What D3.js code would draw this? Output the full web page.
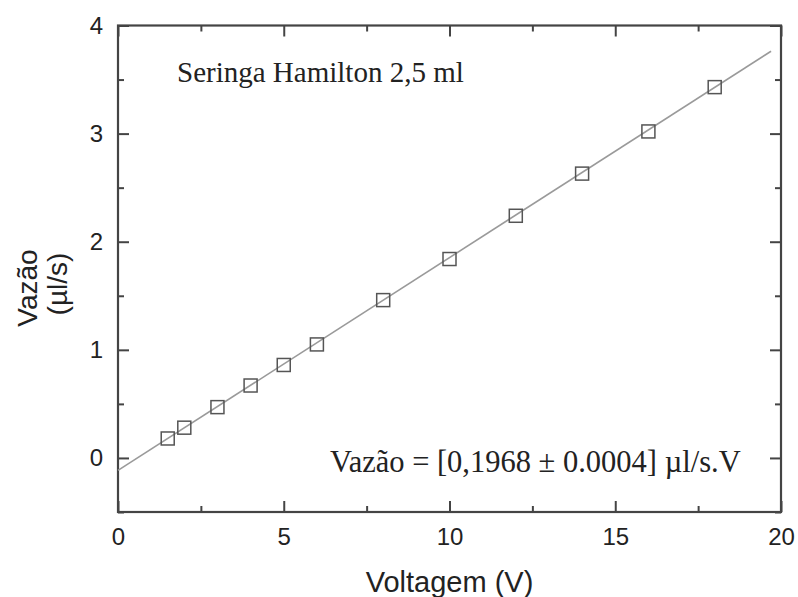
<!DOCTYPE html>
<html>
<head>
<meta charset="utf-8">
<script src="https://cdn.jsdelivr.net/npm/d3@7"></script>
<style>
  html, body { margin: 0; padding: 0; background: #fff; }
  svg { display: block; }
</style>
</head>
<body>
<svg id="chart" width="798" height="597"></svg>
<script>
// ---- data ----
const voltage = [1.5, 2, 3, 4, 5, 6, 8, 10, 12, 14, 16, 18];
const flow    = [0.18, 0.28, 0.47, 0.67, 0.86, 1.05, 1.46, 1.84, 2.24, 2.63, 3.02, 3.43];
const fitSlope = 0.1968;
const fitIntercept = -0.115;
const fitRange = [0, 19.7];
const xTicks = [0, 5, 10, 15, 20];
const xMinor = [2.5, 7.5, 12.5, 17.5];
const yTicks = [0, 1, 2, 3, 4];
const yMinor = [-0.5, 0.5, 1.5, 2.5, 3.5];
const titleText = "Seringa Hamilton 2,5 ml";
const eqText = "Vazão = [0,1968 ± 0.0004] µl/s.V";
const xLabel = "Voltagem (V)";
const yLabel1 = "Vazão";
const yLabel2 = "(µl/s)";

// ---- layout ----
const L = 118, R = 781, T = 25.5, B = 512;
const svg = d3.select("#chart");
const x = d3.scaleLinear().domain([0, 20]).range([L, R]);
const y = d3.scaleLinear().domain([-0.5, 4]).range([B, T]);

const axisColor = "#444";
const sans = "'Liberation Sans', Arial, sans-serif";
const serif = "'Liberation Serif', 'Times New Roman', serif";

function styleAxis(g) {
  g.select(".domain").remove();
  g.selectAll(".tick line").attr("stroke", axisColor).attr("stroke-width", 2);
  g.selectAll(".tick text").attr("fill", "#222").style("font-family", sans).style("font-size", "24px");
}

// major & minor ticks, all four sides
svg.append("g").attr("transform", `translate(0,${B})`)
  .call(d3.axisBottom(x).tickValues(xTicks).tickSize(-11).tickPadding(16).tickFormat(d3.format("d")))
  .call(styleAxis);
svg.append("g").attr("transform", `translate(0,${B})`)
  .call(d3.axisBottom(x).tickValues(xMinor).tickSize(-6).tickFormat(""))
  .call(styleAxis);
svg.append("g").attr("transform", `translate(0,${T})`)
  .call(d3.axisTop(x).tickValues(xTicks).tickSize(-11).tickFormat(""))
  .call(styleAxis);
svg.append("g").attr("transform", `translate(0,${T})`)
  .call(d3.axisTop(x).tickValues(xMinor).tickSize(-6).tickFormat(""))
  .call(styleAxis);

svg.append("g").attr("transform", `translate(${L},0)`)
  .call(d3.axisLeft(y).tickValues(yTicks).tickSize(-11).tickPadding(15).tickFormat(d3.format("d")))
  .call(styleAxis);
svg.append("g").attr("transform", `translate(${L},0)`)
  .call(d3.axisLeft(y).tickValues(yMinor).tickSize(-6).tickFormat(""))
  .call(styleAxis);
svg.append("g").attr("transform", `translate(${R},0)`)
  .call(d3.axisRight(y).tickValues(yTicks).tickSize(-11).tickFormat(""))
  .call(styleAxis);
svg.append("g").attr("transform", `translate(${R},0)`)
  .call(d3.axisRight(y).tickValues(yMinor).tickSize(-6).tickFormat(""))
  .call(styleAxis);

// frame
svg.append("rect")
  .attr("x", L).attr("y", T).attr("width", R - L).attr("height", B - T)
  .attr("fill", "none").attr("stroke", axisColor).attr("stroke-width", 2.2);

// fit line
const line = d3.line().x(d => x(d)).y(d => y(fitIntercept + fitSlope * d));
svg.append("path")
  .datum(fitRange)
  .attr("d", line)
  .attr("fill", "none").attr("stroke", "#9a9a9a").attr("stroke-width", 1.6);

// markers
const s = 13;
svg.append("g").selectAll("rect")
  .data(voltage.map((v, i) => [v, flow[i]]))
  .join("rect")
  .attr("x", d => x(d[0]) - s / 2)
  .attr("y", d => y(d[1]) - s / 2)
  .attr("width", s).attr("height", s)
  .attr("fill", "none").attr("stroke", "#555").attr("stroke-width", 1.5);

// annotations
svg.append("text")
  .attr("x", 177).attr("y", 82)
  .style("font-family", serif).style("font-size", "29px").attr("fill", "#222")
  .text(titleText);
svg.append("text")
  .attr("x", 330).attr("y", 472)
  .style("font-family", serif).style("font-size", "30.5px").attr("fill", "#222")
  .text(eqText);

// axis titles
svg.append("text")
  .attr("x", (L + R) / 2).attr("y", 592)
  .attr("text-anchor", "middle")
  .style("font-family", sans).style("font-size", "29px").attr("fill", "#222")
  .text(xLabel);
svg.append("text")
  .attr("transform", "translate(37,288) rotate(-90)")
  .attr("text-anchor", "middle")
  .style("font-family", sans).style("font-size", "28px").attr("fill", "#222")
  .text(yLabel1);
svg.append("text")
  .attr("transform", "translate(67,284) rotate(-90)")
  .attr("text-anchor", "middle")
  .style("font-family", sans).style("font-size", "28px").attr("fill", "#222")
  .text(yLabel2);
</script>
</body>
</html>
